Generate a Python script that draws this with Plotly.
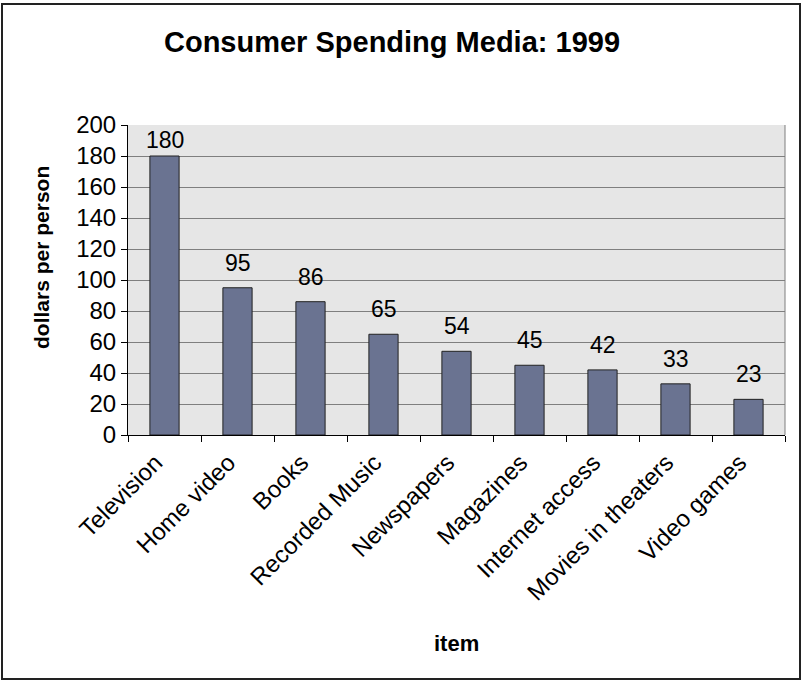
import plotly.graph_objects as go

categories = ["Television", "Home video", "Books", "Recorded Music", "Newspapers",
              "Magazines", "Internet access", "Movies in theaters", "Video games"]
values = [180, 95, 86, 65, 54, 45, 42, 33, 23]

W, H = 802, 681
L, R, T, B = 128, 785, 125, 435
pw, ph = R - L, B - T
YMAX = 200

def px_x(x):
    return (x - L) / pw

def px_y(y):
    return (B - y) / ph

font = "Liberation Sans, Arial, sans-serif"

fig = go.Figure(go.Bar(
    x=categories, y=values,
    marker=dict(color="#6A7391", line=dict(color="#222222", width=1)),
    width=0.40, cliponaxis=False,
))

annotations = []
for c, v in zip(categories, values):
    room = (YMAX - v) * ph / YMAX  # pixels between bar top and plot top
    shift = min(25, room - 15)
    annotations.append(dict(x=c, y=v, xref="x", yref="y", text=str(v), showarrow=False,
                            yshift=shift, yanchor="middle",
                            font=dict(size=23, family=font, color="black")))

annotations.append(dict(x=0.5, y=px_y(643), xref="paper", yref="paper", text="<b>item</b>",
                        showarrow=False, xanchor="center", yanchor="middle",
                        font=dict(size=22, family=font, color="black")))
annotations.append(dict(x=px_x(41), y=px_y(258), xref="paper", yref="paper",
                        text="<b>dollars per person</b>", textangle=-90,
                        showarrow=False, xanchor="center", yanchor="middle",
                        font=dict(size=21, family=font, color="black")))

fig.update_layout(
    width=W, height=H,
    margin=dict(l=L, r=W - R, t=T, b=H - B),
    paper_bgcolor="white", plot_bgcolor="#E6E6E6",
    font=dict(family=font, color="black"),
    showlegend=False,
    title=dict(text="<b>Consumer Spending Media: 1999</b>", x=392 / W, xref="container",
               xanchor="center", y=1 - 42 / H, yref="container", yanchor="middle",
               font=dict(size=29, family=font, color="black")),
    xaxis=dict(
        type="category", tickson="boundaries", ticks="outside", ticklen=6,
        tickcolor="black", showline=True, linecolor="black", linewidth=1,
        tickangle=-45, tickfont=dict(size=24, family=font, color="black"),
        ticklabelshift=-9, ticklabelstandoff=3,
        showgrid=False, automargin=False,
    ),
    yaxis=dict(
        range=[0, YMAX], dtick=20, ticks="outside", ticklen=6, tickcolor="black",
        showline=True, linecolor="black", linewidth=1,
        gridcolor="#7F7F7F", gridwidth=1, zeroline=False, automargin=False,
        tickfont=dict(size=24, family=font, color="black"),
    ),
    annotations=annotations,
    shapes=[
        dict(type="rect", xref="paper", yref="paper",
             x0=px_x(2), x1=px_x(800), y0=px_y(679), y1=px_y(4),
             line=dict(color="#222222", width=2), fillcolor="rgba(0,0,0,0)", layer="below"),
        dict(type="line", xref="paper", yref="paper", x0=1, x1=1, y0=0, y1=1,
             line=dict(color="#7F7F7F", width=1)),
    ],
)

fig.write_html("out.html")
